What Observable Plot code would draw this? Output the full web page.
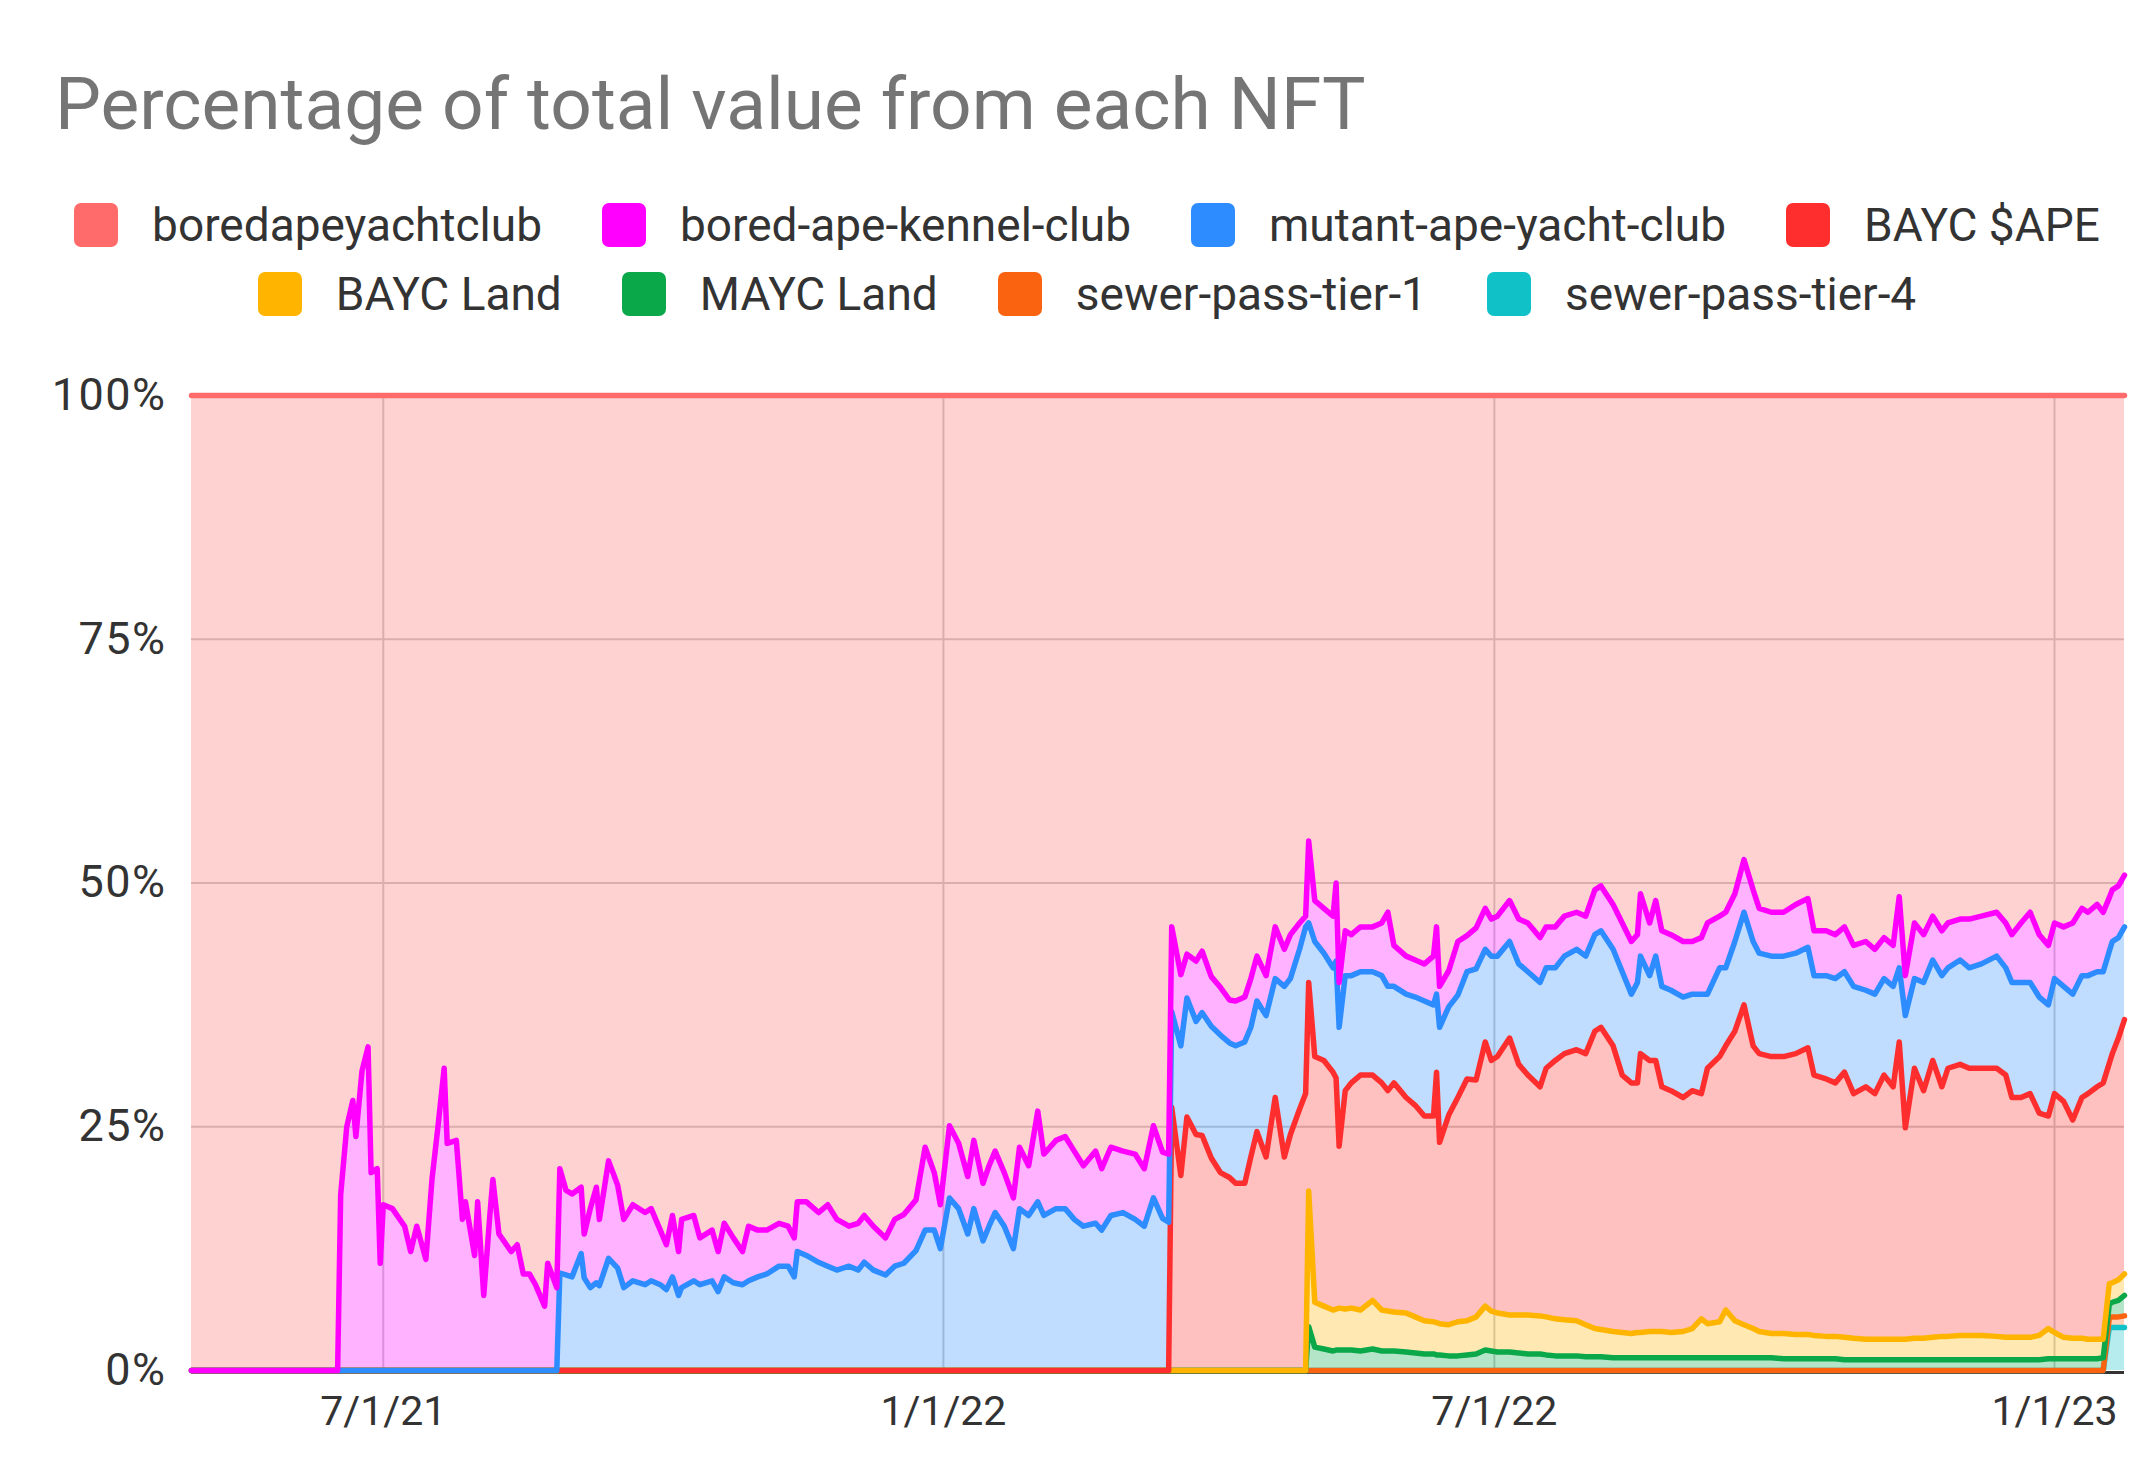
<!DOCTYPE html>
<html>
<head>
<meta charset="utf-8">
<script src="https://cdn.jsdelivr.net/npm/d3@7"></script>
<script src="https://cdn.jsdelivr.net/npm/@observablehq/plot@0.6"></script>
<style>
  html, body { margin: 0; padding: 0; background: #ffffff; }
  #wrap { position: relative; width: 2156px; height: 1484px; overflow: hidden; font-family: Roboto, "Liberation Sans", sans-serif; }
  #title { position: absolute; left: 55px; top: 68px; font-size: 73px; line-height: 1; color: #757575; white-space: nowrap; }
  .lrow { position: absolute; left: 0; width: 2156px; height: 44px; display: flex; justify-content: center; align-items: center; padding-left: 18px; box-sizing: border-box; }
  .litem { display: flex; align-items: center; margin: 0 30px; }
  .sw { width: 44px; height: 44px; border-radius: 7px; margin-right: 34px; }
  .lt { font-size: 46px; color: #333; white-space: nowrap; }
  #chart { position: absolute; left: 0; top: 340px; }
</style>
</head>
<body>
<div id="wrap">
  <div id="title">Percentage of total value from each NFT</div>
  <div class="lrow" id="row1" style="top:203px"></div>
  <div class="lrow" id="row2" style="top:272px"></div>
  <div id="chart"></div>
</div>
<script>
// ---- tick labels / axis ----
const yTicks = [0, 25, 50, 75, 100];
const xTicks = ["2021-07-01", "2022-01-01", "2022-07-01", "2023-01-01"];
const xStart = "2021-04-29";
const xEnd = "2023-01-24";

// ---- series names (legend order) and colours ----
const names = ["boredapeyachtclub", "bored-ape-kennel-club", "mutant-ape-yacht-club", "BAYC $APE", "BAYC Land", "MAYC Land", "sewer-pass-tier-1", "sewer-pass-tier-4"];
const colors = ["#ff6b6b", "#ff00ff", "#2d8cff", "#fe2e2e", "#ffb400", "#0ba84a", "#fa6410", "#10c1c8"];

// ---- dates ----
const dates = [
"2021-04-29","2021-06-16","2021-06-17","2021-06-19","2021-06-21","2021-06-22","2021-06-24","2021-06-26","2021-06-27","2021-06-29",
"2021-06-30","2021-07-01","2021-07-04","2021-07-08","2021-07-10","2021-07-12","2021-07-15","2021-07-17","2021-07-19","2021-07-21",
"2021-07-22","2021-07-25","2021-07-27","2021-07-28","2021-07-31","2021-08-01","2021-08-03","2021-08-05","2021-08-06","2021-08-08",
"2021-08-12","2021-08-14","2021-08-16","2021-08-18","2021-08-20","2021-08-23","2021-08-24","2021-08-27",
"2021-08-28","2021-08-30","2021-09-01","2021-09-04","2021-09-05","2021-09-07","2021-09-09","2021-09-10","2021-09-13","2021-09-16",
"2021-09-18","2021-09-21","2021-09-25","2021-09-27","2021-09-30","2021-10-02","2021-10-04","2021-10-06","2021-10-07","2021-10-11",
"2021-10-13","2021-10-17","2021-10-19","2021-10-21","2021-10-24","2021-10-27","2021-10-29","2021-11-01","2021-11-04","2021-11-08",
"2021-11-11","2021-11-13","2021-11-14","2021-11-17","2021-11-21","2021-11-24","2021-11-27","2021-12-01","2021-12-04","2021-12-06",
"2021-12-09","2021-12-13","2021-12-16","2021-12-19","2021-12-23","2021-12-26","2021-12-29","2021-12-31","2022-01-03","2022-01-06",
"2022-01-09","2022-01-11","2022-01-14","2022-01-16","2022-01-18","2022-01-21","2022-01-24","2022-01-26","2022-01-29","2022-02-01",
"2022-02-03","2022-02-07","2022-02-10","2022-02-13","2022-02-16","2022-02-20","2022-02-22","2022-02-25","2022-03-01","2022-03-05",
"2022-03-08","2022-03-11","2022-03-14","2022-03-16",
"2022-03-17","2022-03-20","2022-03-22","2022-03-25","2022-03-27","2022-03-30","2022-04-02","2022-04-05","2022-04-07","2022-04-10",
"2022-04-12","2022-04-14","2022-04-17","2022-04-20","2022-04-23","2022-04-25","2022-04-28","2022-04-30",
"2022-05-01","2022-05-03","2022-05-06","2022-05-09","2022-05-10","2022-05-11","2022-05-13","2022-05-15","2022-05-18","2022-05-22",
"2022-05-25","2022-05-27","2022-05-29","2022-06-02","2022-06-05","2022-06-08","2022-06-11","2022-06-12","2022-06-13","2022-06-16",
"2022-06-19","2022-06-22","2022-06-25","2022-06-28","2022-06-30","2022-07-02","2022-07-06","2022-07-09","2022-07-12","2022-07-16",
"2022-07-18","2022-07-21","2022-07-24","2022-07-28","2022-07-31","2022-08-03","2022-08-05","2022-08-09","2022-08-12","2022-08-15",
"2022-08-17","2022-08-18","2022-08-21","2022-08-23","2022-08-25","2022-08-28","2022-09-01","2022-09-04","2022-09-07","2022-09-09",
"2022-09-13","2022-09-15","2022-09-18","2022-09-21","2022-09-24","2022-09-26","2022-09-30","2022-10-04","2022-10-08","2022-10-12",
"2022-10-14","2022-10-18","2022-10-21","2022-10-24","2022-10-27","2022-10-31","2022-11-03","2022-11-06","2022-11-09","2022-11-11",
"2022-11-13","2022-11-16","2022-11-19","2022-11-22","2022-11-25","2022-11-27","2022-12-01","2022-12-04","2022-12-08","2022-12-13",
"2022-12-16","2022-12-18","2022-12-21","2022-12-24","2022-12-27","2022-12-30","2023-01-01","2023-01-04","2023-01-07","2023-01-10",
"2023-01-12","2023-01-15","2023-01-17","2023-01-19","2023-01-20","2023-01-22","2023-01-24"
];

// ---- series values (% of total) ----
const bayc = [
100,100,82,75,72.3,76,69.3,66.8,79.7,79.3, 89,83,83.4,85.2,87.8,85.2,88.6,80.4,74.9,69, 76.7,76.4,84.5,82.7,88.2,82.7,92.3,84.1,80.4,86, 87.8,87.1,90.1,90.1,91.2,93.4,89,91.5,
79.3,81.5,81.9,81.2,86,83.4,81.2,84.5,78.5,81, 84.5,83,83.8,83.4,85.6,87.1,84.1,87.8,84.5,84.1, 86.4,85.6,87.8,84.9,86.4,87.8,85.2,85.6,85.6,84.9,
85.2,86.4,82.7,82.7,83.8,83,84.5,85.2,84.9,84.1, 85.2,86.4,84.5,84,82.5,77.1,79.7,83,74.9,76.7, 80.1,76.4,80.8,79,77.5,79.7,82.3,77.1,79,73.4,
77.8,76.4,76,77.5,79,77.5,79.3,77.1,77.5,77.8, 79.3,74.9,77.6,77.8,
54.5,59.4,57.3,58,57,59.6,60.7,62,62.1,61.7, 59.8,57.5,59.5,54.5,56.8,55.3,54.1,53.4,
45.7,51.8,52.6,53.4,50,60.2,54.9,55.3,54.5,54.5, 54.1,53,56.4,57.5,57.9,58.3,57.5,54.5,60.6,59, 56,55.4,54.6,52.6,53.7,53.4,51.8,53.7,54.1,55.6,
54.5,54.5,53.4,53,53.4,50.7,50.3,52.2,54.1,56, 55.3,51.1,54.1,51.8,54.9,55.3,56,56,55.6,54.1, 53.4,53,51.1,47.6,50.7,52.6,53,53,52.2,51.6,
54.9,54.9,55.3,54.5,56.4,56,56.8,55.6,56.4,51.4, 59.5,54.1,55.3,53.4,54.9,54.1,53.7,53.7,53.4,53, 54.1,55.3,54.1,53,55.3,56.4,54.1,54.5,54.1,52.6,
53,52.2,53,51.5,50.7,50.3,49.2
];
const bakc = [
0,0,18,25,27.7,24,30.7,33.2,20.3,20.7, 11,17,16.6,14.8,12.2,14.8,11.4,19.6,25.1,31, 23.3,23.6,15.5,17.3,11.8,17.3,7.7,15.9,19.6,14, 12.2,12.9,9.9,9.9,8.8,6.6,11,8.5,
10.7,8.7,8.5,6.8,4.5,8.1,9.8,6.8,10,8.5, 7,7.8,7.4,7.4,5.6,4.6,6.3,4.5,7,6.7, 4.8,5.2,4.1,5.5,4.6,3.4,5.6,4.8,4.5,4.4,
4.1,4,5.1,5.5,5.1,6.3,5.2,4.1,4.8,4.8, 4.5,3.8,4.8,5,5.2,8.5,5.9,4.5,7.4,6.7, 5.9,7,5.9,6.2,6.3,5.5,5.2,6.3,5.1,9.3,
6.3,7,7.4,7,6.2,7.4,6.3,7,6.3,6.7, 5.9,7.4,6.8,7,
8.7,7.3,4.5,6.2,6.3,5.1,4.9,4.4,4.6,4.6, 5,4.6,4.1,5.3,3.8,4.5,2.7,1.1,
8.4,4.2,4.6,5.3,8,4.6,4.6,4.2,4.6,4.6, 5.4,7.6,4.2,3.9,3.8,3.8,5,6.9,4.2,3.7, 5.5,3.7,4.2,4.2,3.8,4.1,4.2,4.6,5,4.6,
4.2,4.2,4.1,3.8,4.1,4.6,4.6,4.6,5,5.4, 4.9,6.4,5.4,5.7,5.7,5.7,5.7,5.4,5.8,7.3, 5.3,5.7,4.9,5.4,5.3,4.6,4.5,4.5,5,5,
4.6,4.6,4.5,4.6,4.2,5,4.6,4.2,4.2,7.3, 4.1,5.7,4.9,4.5,4.6,4.6,4.2,5,4.9,4.5, 4.6,4.9,6.1,7.2,6.4,6.1,5.7,6.1,7.3,6.9,
6.5,6.9,6.1,5.5,5.3,5.3,5.3
];
const mayc = [
0,0,0,0,0,0,0,0,0,0, 0,0,0,0,0,0,0,0,0,0, 0,0,0,0,0,0,0,0,0,0, 0,0,0,0,0,0,0,0,
10,9.8,9.6,12,9.5,8.5,9,8.7,11.5,10.5, 8.5,9.2,8.8,9.2,8.8,8.3,9.6,7.7,8.5,9.2, 8.8,9.2,8.1,9.6,9,8.8,9.2,9.6,9.9,10.7,
10.7,9.6,12.2,11.8,11.1,10.7,10.3,10.7,10.3,11.1, 10.3,9.8,10.7,11,12.3,14.4,14.4,12.5,17.7,16.6, 14,16.6,13.3,14.8,16.2,14.8,12.5,16.6,15.9,17.3,
15.9,16.6,16.6,15.5,14.8,15.1,14.4,15.9,16.2,15.5, 14.8,17.7,15.6,15.2,
9.8,13.3,12.2,11.6,12.6,13.5,14.1,13.8,14.1,14.5, 13.3,13.4,14.5,12.2,17.5,16,16.4,17.1,
6.1,11.8,11,10.7,12,12.2,11.8,11,10.6,10.6, 11,10.7,9.9,10.6,11.1,11.8,11.4,8,11.8,11.1, 10.5,11,11.4,9.5,10.7,10.3,9.9,10.3,10.6,10.7,
10.3,9.5,10,10.3,10,9.9,9.9,9.9,10.6,9.1, 10.3,10,8.7,10.7,10.3,10.3,10.3,9.9,10.2,7.6, 9.1,8,9.2,9.5,10.7,10.3,10.3,10.3,10.3,10.3,
10.2,10.6,10.7,10.3,11,9.9,10.2,9.9,10.3,7.6, 11.5,9.2,11.1,10.3,11.4,10.3,10.7,10.3,10.7,11.5, 11,11.8,11.8,11.4,11.9,11.4,11.8,11.8,12.9,12.5,
12.1,11.8,11.4,11.5,11.5,10.3,9.5
];
const ape = [
0,0,0,0,0,0,0,0,0,0, 0,0,0,0,0,0,0,0,0,0, 0,0,0,0,0,0,0,0,0,0, 0,0,0,0,0,0,0,0,
0,0,0,0,0,0,0,0,0,0, 0,0,0,0,0,0,0,0,0,0, 0,0,0,0,0,0,0,0,0,0,
0,0,0,0,0,0,0,0,0,0, 0,0,0,0,0,0,0,0,0,0, 0,0,0,0,0,0,0,0,0,0,
0,0,0,0,0,0,0,0,0,0, 0,0,0,0,
27,20,26,24.2,24.1,21.8,20.3,19.8,19.2,19.2, 21.9,24.5,21.9,28,21.9,24.2,26.8,28.4,
21.4,25.2,25.2,24.4,23.7,16.6,22.4,23.1,24.1,23.1, 23.3,22.6,23.5,22.1,21.7,21,21.1,25.7,18.6,21.5, 23,24.8,24.3,27.1,25.7,26.3,28.4,25.7,24.6,23.5,
25.5,26.5,27.3,27.8,27.8,30.5,31,29.3,26.4,25.7, 25.6,28.6,27.8,27.8,25.1,24.8,24,24.4,23.1,26.2, 27.2,27.1,29.7,32.8,29,28.5,28.4,28.4,28.8,29.4,
26.7,26.4,26,27.2,25.1,25.9,25.2,27.1,25.9,30.5, 21.7,27.7,25.4,28.4,25.6,27.5,27.8,27.4,27.4,27.5, 26.9,24.6,24.6,25,22.8,21.8,24.5,24.2,22.4,24.7,
25.2,25.9,26.3,22.6,23.5,24.8,26.1
];
const baycLand = [
0,0,0,0,0,0,0,0,0,0, 0,0,0,0,0,0,0,0,0,0, 0,0,0,0,0,0,0,0,0,0, 0,0,0,0,0,0,0,0,
0,0,0,0,0,0,0,0,0,0, 0,0,0,0,0,0,0,0,0,0, 0,0,0,0,0,0,0,0,0,0,
0,0,0,0,0,0,0,0,0,0, 0,0,0,0,0,0,0,0,0,0, 0,0,0,0,0,0,0,0,0,0,
0,0,0,0,0,0,0,0,0,0, 0,0,0,0,
0,0,0,0,0,0,0,0,0,0, 0,0,0,0,0,0,0,0,
13.9,4.6,4.4,4.2,4.2,4.3,4.2,4.3,4.2,5, 4.2,4.1,4,4,3.7,3.4,3.3,3.3,3.2,3.2, 3.5,3.5,3.8,4.5,4.1,4,3.8,3.9,4,3.9,
3.9,3.8,3.7,3.6,3.3,2.9,2.8,2.7,2.6,2.5, 2.6,2.6,2.7,2.7,2.7,2.6,2.7,3,4,3.5, 3.7,4.9,3.8,3.4,3,2.7,2.5,2.6,2.5,2.5,
2.4,2.3,2.3,2.3,2.2,2.1,2.1,2.1,2.1,2.1, 2.1,2.2,2.2,2.3,2.4,2.4,2.5,2.5,2.5,2.4, 2.3,2.3,2.3,2.3,2.5,3.1,2.7,2.2,2.1,2.1,
2,2,1.9,2.1,2,2.1,2.2
];
const maycLand = [
0,0,0,0,0,0,0,0,0,0, 0,0,0,0,0,0,0,0,0,0, 0,0,0,0,0,0,0,0,0,0, 0,0,0,0,0,0,0,0,
0,0,0,0,0,0,0,0,0,0, 0,0,0,0,0,0,0,0,0,0, 0,0,0,0,0,0,0,0,0,0,
0,0,0,0,0,0,0,0,0,0, 0,0,0,0,0,0,0,0,0,0, 0,0,0,0,0,0,0,0,0,0,
0,0,0,0,0,0,0,0,0,0, 0,0,0,0,
0,0,0,0,0,0,0,0,0,0, 0,0,0,0,0,0,0,0,
4.5,2.4,2.2,2,2.1,2.1,2.1,2.1,2,2.2, 2,2,2,1.9,1.8,1.7,1.7,1.6,1.6,1.5, 1.5,1.6,1.7,2.1,2,1.9,1.9,1.8,1.7,1.7,
1.6,1.5,1.5,1.5,1.4,1.4,1.4,1.3,1.3,1.3, 1.3,1.3,1.3,1.3,1.3,1.3,1.3,1.3,1.3,1.3, 1.3,1.3,1.3,1.3,1.3,1.3,1.3,1.2,1.2,1.2,
1.2,1.2,1.2,1.1,1.1,1.1,1.1,1.1,1.1,1.1, 1.1,1.1,1.1,1.1,1.1,1.1,1.1,1.1,1.1,1.1, 1.1,1.1,1.1,1.1,1.1,1.2,1.2,1.2,1.2,1.2,
1.2,1.2,1.3,1.4,1.5,1.7,2.1
];
const sewer1 = [
0,0,0,0,0,0,0,0,0,0, 0,0,0,0,0,0,0,0,0,0, 0,0,0,0,0,0,0,0,0,0, 0,0,0,0,0,0,0,0,
0,0,0,0,0,0,0,0,0,0, 0,0,0,0,0,0,0,0,0,0, 0,0,0,0,0,0,0,0,0,0,
0,0,0,0,0,0,0,0,0,0, 0,0,0,0,0,0,0,0,0,0, 0,0,0,0,0,0,0,0,0,0,
0,0,0,0,0,0,0,0,0,0, 0,0,0,0,
0,0,0,0,0,0,0,0,0,0, 0,0,0,0,0,0,0,0,
0,0,0,0,0,0,0,0,0,0, 0,0,0,0,0,0,0,0,0,0, 0,0,0,0,0,0,0,0,0,0,
0,0,0,0,0,0,0,0,0,0, 0,0,0,0,0,0,0,0,0,0, 0,0,0,0,0,0,0,0,0,0,
0,0,0,0,0,0,0,0,0,0, 0,0,0,0,0,0,0,0,0,0, 0,0,0,0,0,0,0,0,0,0,
0,0,0,1.0,1.1,1.1,1.2
];
const sewer4 = [
0,0,0,0,0,0,0,0,0,0, 0,0,0,0,0,0,0,0,0,0, 0,0,0,0,0,0,0,0,0,0, 0,0,0,0,0,0,0,0,
0,0,0,0,0,0,0,0,0,0, 0,0,0,0,0,0,0,0,0,0, 0,0,0,0,0,0,0,0,0,0,
0,0,0,0,0,0,0,0,0,0, 0,0,0,0,0,0,0,0,0,0, 0,0,0,0,0,0,0,0,0,0,
0,0,0,0,0,0,0,0,0,0, 0,0,0,0,
0,0,0,0,0,0,0,0,0,0, 0,0,0,0,0,0,0,0,
0,0,0,0,0,0,0,0,0,0, 0,0,0,0,0,0,0,0,0,0, 0,0,0,0,0,0,0,0,0,0,
0,0,0,0,0,0,0,0,0,0, 0,0,0,0,0,0,0,0,0,0, 0,0,0,0,0,0,0,0,0,0,
0,0,0,0,0,0,0,0,0,0, 0,0,0,0,0,0,0,0,0,0, 0,0,0,0,0,0,0,0,0,0,
0,0,0,4.4,4.4,4.4,4.4
];

const seriesValues = [bayc, bakc, mayc, ape, baycLand, maycLand, sewer1, sewer4];
seriesValues.forEach((s, k) => { if (s.length !== dates.length) console.error("length mismatch", names[k], s.length, dates.length); });

// ---- legend (HTML) ----
const rowsEls = [document.getElementById("row1"), document.getElementById("row2")];
names.forEach((n, i) => {
  const item = document.createElement("div");
  item.className = "litem";
  item.innerHTML = `<div class="sw" style="background:${colors[i]}"></div><div class="lt"></div>`;
  item.querySelector(".lt").textContent = n;
  rowsEls[i < 4 ? 0 : 1].appendChild(item);
});

// ---- long table for Plot ----
const parse = d3.utcParse("%Y-%m-%d");
const stackOrder = names.slice().reverse(); // bottom to top
const rows = [];
stackOrder.forEach(name => {
  const vals = seriesValues[names.indexOf(name)];
  dates.forEach((d, i) => rows.push({date: parse(d), series: name, value: vals[i]}));
});

const chart = Plot.plot({
  width: 2156,
  height: 1144,
  marginTop: 55,
  marginBottom: 114,
  marginLeft: 191,
  marginRight: 32,
  style: {fontFamily: "Roboto, 'Liberation Sans', sans-serif", fontSize: "41px", color: "#333", background: "transparent", overflow: "visible"},
  x: {type: "utc", domain: [parse(xStart), parse(xEnd)], ticks: xTicks.map(parse), tickFormat: d3.utcFormat("%-m/%-d/%y"), tickSize: 0, tickPadding: 25, label: null},
  y: {domain: [0, 100], ticks: yTicks, tickFormat: d => d + "%", tickSize: 0, tickPadding: 25, label: null},
  color: {domain: names, range: colors},
  marks: [
    Plot.ruleY(yTicks.filter(t => t > 0 && t < 100), {stroke: "#cccccc", strokeWidth: 2}),
    Plot.ruleX(xTicks.map(parse), {stroke: "#cccccc", strokeWidth: 2}),
    Plot.areaY(rows, Plot.stackY({x: "date", y: "value", z: "series", fill: "series", fillOpacity: 0.3, order: stackOrder})),
    Plot.ruleY([0], {stroke: "#333333", strokeWidth: 3, dy: 2}),
    Plot.lineY(rows, Plot.stackY2({x: "date", y: "value", z: "series", stroke: "series", strokeWidth: 5.5, strokeLinejoin: "round", order: stackOrder}))
  ]
});
// larger, slightly spaced y tick labels as in the reference
d3.select(chart).selectAll('g[aria-label^="y-axis"] text').style("font-size", "45px").style("letter-spacing", "1.5px");
document.getElementById("chart").appendChild(chart);
</script>
</body>
</html>
